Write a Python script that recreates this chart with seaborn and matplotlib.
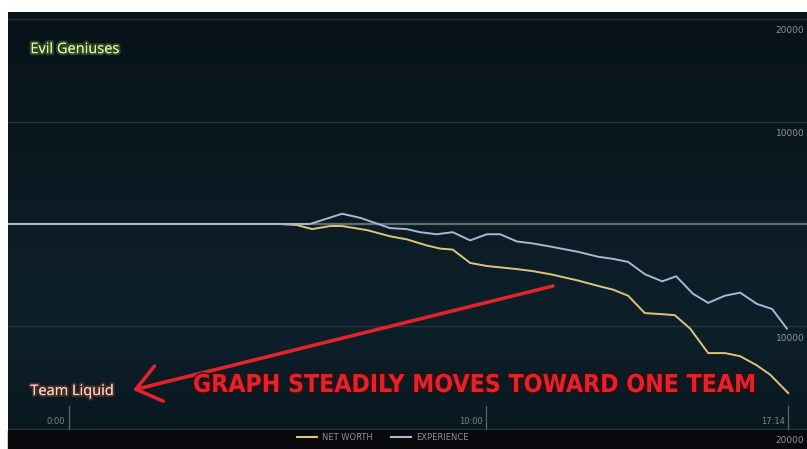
# =====================================
# NET WORTH / EXPERIENCE ADVANTAGE GRAPH
# =====================================

import numpy as np
import pandas as pd
import matplotlib
matplotlib.use("Agg")
import matplotlib.pyplot as plt
import matplotlib.patheffects as pe
from matplotlib import font_manager
from matplotlib.colors import LinearSegmentedColormap
from matplotlib.lines import Line2D
from matplotlib.patches import Rectangle
import seaborn as sns

# =====================
# DATA (seconds, gold)
# =====================

time_nw = [-86, 304, 328, 350, 376, 393, 429, 462, 486, 515,
           534, 552, 577, 601, 644, 667, 692, 731, 764, 782,
           804, 828, 853, 871, 893, 919, 943, 965, 989, 1008, 1034]
net_worth = [0, 0, -100, -500, -200, -200, -600, -1200, -1500, -2100,
             -2400, -2500, -3800, -4100, -4400, -4600, -4900, -5500, -6100, -6400,
             -7000, -8700, -8800, -8900, -10200, -12600, -12600, -12900, -13800, -14700, -16500]

time_xp = [-86, 304, 347, 393, 419, 462, 486, 505, 529, 552,
           577, 601, 620, 644, 667, 692, 731, 761, 782, 804,
           828, 853, 873, 897, 919, 943, 965, 989, 1011, 1032]
experience = [0, 0, 0, 1000, 600, -400, -500, -800, -1000, -800,
              -1600, -1000, -1000, -1700, -1900, -2200, -2700, -3200, -3400, -3700,
              -4900, -5600, -5100, -6800, -7700, -7000, -6700, -7800, -8300, -10200]

series_names = ["NET WORTH", "EXPERIENCE"]
series_colors = ["#dcc57a", "#a9b6d6"]

x_ticks = [0, 600, 1034]
x_tick_labels = ["0:00", "10:00", "17:14"]
y_grid = [20000, 10000, 0, -10000, -20000]

team_top = "Evil Geniuses"
team_bottom = "Team Liquid"
caption = "GRAPH STEADILY MOVES TOWARD ONE TEAM"

df = pd.concat([
    pd.DataFrame({"time": time_nw, "value": net_worth, "series": series_names[0]}),
    pd.DataFrame({"time": time_xp, "value": experience, "series": series_names[1]}),
])

# =========================
# FIGURE
# =========================

W, H = 807, 449
fig = plt.figure(figsize=(W / 100, H / 100), dpi=100)
fig.patch.set_facecolor("white")

ax = fig.add_axes([8 / W, (H - 430) / H, (W - 8) / W, (430 - 12) / H])
xmin, xmax = -87, 1061
ymin, ymax = -20106, 20690
ax.set_xlim(xmin, xmax)
ax.set_ylim(ymin, ymax)
ax.axis("off")

# background
bg = LinearSegmentedColormap.from_list(
    "bg", ["#0a1820", "#0d202a", "#0c1c25", "#0a161d", "#08131a"])
grad = np.linspace(0, 1, 200).reshape(-1, 1)
ax.imshow(grad, extent=[xmin, xmax, ymin, ymax], aspect="auto",
          cmap=bg, origin="lower", zorder=0)

# bottom band
fig.add_artist(Rectangle((8 / W, 0), (W - 8) / W, (H - 430) / H,
                         transform=fig.transFigure, color="#07090c", zorder=0))

# grid lines
for v in y_grid:
    if v == 0:
        ax.axhline(v, color="#5f6c70", lw=1.6, zorder=1)
    else:
        ax.axhline(v, color="#243439", lw=1.0, zorder=1)

# y labels (absolute values)
for v in y_grid:
    if v == 0:
        continue
    ax.text(xmax - 4, v - 700, f"{abs(v)}", ha="right", va="top",
            color="#8d9398", fontsize=6.5, clip_on=False, zorder=3)

# x ticks
for t, lab in zip(x_ticks, x_tick_labels):
    ax.plot([t, t], [ymin, ymin + 2300], color="#5d6468", lw=0.9, zorder=2)
    ax.text(t - 5, ymin + 800, lab, ha="right", va="center",
            color="#80868b", fontsize=6, zorder=3)

# =========================
# LINES
# =========================

sns.lineplot(data=df, x="time", y="value", hue="series",
             palette=dict(zip(series_names, series_colors)),
             estimator=None, sort=False, linewidth=1.4, legend=False,
             ax=ax, zorder=4)
ax.set_xlim(xmin, xmax)
ax.set_ylim(ymin, ymax)
ax.axis("off")

# team labels
ax.text(0.028, 0.91, team_top, transform=ax.transAxes, fontsize=10.5,
        family="Open Sans", color="#def3ae", va="center",
        path_effects=[pe.withStroke(linewidth=3, foreground=(0.45, 0.65, 0.2, 0.35))])
ax.text(0.028, 0.092, team_bottom, transform=ax.transAxes, fontsize=10.5,
        family="Open Sans", color="#f6dccb", va="center",
        path_effects=[pe.withStroke(linewidth=3, foreground=(0.7, 0.3, 0.2, 0.35))])

# =========================
# RED ANNOTATION
# =========================

ax.annotate("", xy=(133, H - 390), xycoords="figure pixels",
            xytext=(553, H - 286), textcoords="figure pixels",
            arrowprops=dict(arrowstyle="->,head_length=0.85,head_width=0.65",
                            color="#e0232c", lw=2.6, mutation_scale=20,
                            shrinkA=0, shrinkB=0),
            zorder=6)

cap = fig.text(193 / W, (H - 385) / H, caption, ha="left", va="center",
               color="#e3222b", fontsize=19, fontweight="heavy",
               family="DejaVu Sans", fontstretch="condensed",
               path_effects=[pe.withStroke(linewidth=2, foreground="#3a0a0c")],
               zorder=7)

# fit the caption to its width in the reference (193 -> 755 px)
fig.canvas.draw()
w_px = cap.get_window_extent().width
cap.set_fontsize(19 * min(1.0, 562 / w_px))

# =========================
# LEGEND
# =========================

handles = [Line2D([0], [0], color=c, lw=1.5) for c in series_colors]
leg = fig.legend(handles, series_names, loc="center", ncol=2,
                 bbox_to_anchor=(383 / W, 12 / H), frameon=False,
                 fontsize=6, handlelength=2.4, handletextpad=0.6,
                 columnspacing=2.2, labelcolor="#8a9095")

fig.savefig("out.png", dpi=100, facecolor=fig.get_facecolor())
